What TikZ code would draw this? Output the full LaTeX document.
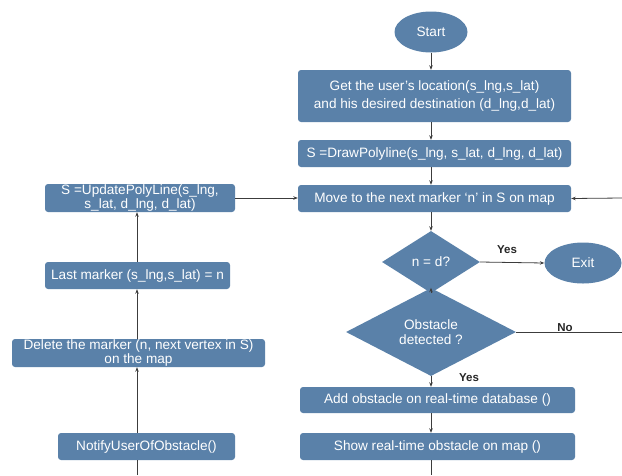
\documentclass[tikz,border=0pt]{standalone}
\usepackage{fontspec}
\setmainfont{Liberation Sans}
\usetikzlibrary{shapes.geometric,arrows.meta}
\definecolor{boxblue}{HTML}{5A81A9}
\definecolor{linegray}{HTML}{3C3C3C}
\tikzset{
  base/.style={fill=boxblue, draw=none, text=white, font=\fontsize{13.6}{14.5}\selectfont, align=center, inner sep=0pt},
  procbox/.style={base, rectangle, rounded corners=3pt},
  termbox/.style={base, ellipse},
  decbox/.style={base, diamond},
  conn/.style={draw=linegray, line width=0.8pt},
  arr/.style={conn, -{Stealth[length=4.5pt,width=3.5pt]}},
  lbl/.style={font=\fontsize{11.5}{13}\selectfont\bfseries, text=black!85}
}
\begin{document}
\begin{tikzpicture}[x=1pt,y=-1pt]
\useasboundingbox (0,0) rectangle (622,475);
% main column
\node[termbox, minimum width=73pt, minimum height=41pt] (start) at (431,32) {Start};
\node[procbox, minimum width=273pt, minimum height=52pt] (get) at (434.5,96) {Get the user’s location(s\_lng,s\_lat)\\[4pt]and his desired destination (d\_lng,d\_lat)};
\node[procbox, minimum width=273pt, minimum height=27pt] (draw) at (434.5,153.5) {S =DrawPolyline(s\_lng, s\_lat, d\_lng, d\_lat)};
\node[procbox, minimum width=273pt, minimum height=27pt] (move) at (434.5,198.5) {Move to the next marker ‘n’ in S on map};
\node[decbox, minimum width=98pt, minimum height=62pt] (dec) at (431,262) {n = d?};
\node[termbox, minimum width=77pt, minimum height=41pt] (exit) at (583,263) {Exit};
\node[decbox, minimum width=170pt, minimum height=70pt] (obs) at (431,332) {Obstacle\\detected ?};
\node[procbox, minimum width=275pt, minimum height=26pt] (add) at (437.5,400) {Add obstacle on real-time database ()};
\node[procbox, minimum width=275pt, minimum height=27pt] (show) at (437.5,446.5) {Show real-time obstacle on map ()};
% left column
\node[procbox, minimum width=190pt, minimum height=28pt] (update) at (140,198) {S =UpdatePolyLine(s\_lng,\\s\_lat, d\_lng, d\_lat)};
\node[procbox, minimum width=185pt, minimum height=27pt] (last) at (137.5,275.5) {Last marker (s\_lng,s\_lat) = n};
\node[procbox, minimum width=253pt, minimum height=28pt] (delete) at (138.5,353) {Delete the marker (n, next vertex in S)\\on the map};
\node[procbox, minimum width=177pt, minimum height=27pt] (notify) at (146.5,446.5) {NotifyUserOfObstacle()};
% free ends
\coordinate (rin) at (622,198);
\coordinate (rout) at (622,332);
\coordinate (bmain) at (431,475);
\coordinate (bleft) at (137,475);
\coordinate (colx) at (137,0);
\coordinate (mainx) at (431,0);
% connectors main
\draw[arr] (start.south) -- (start.south |- get.north);
\draw[arr] (get.south -| mainx) -- (draw.north -| mainx);
\draw[arr] (draw.south -| mainx) -- (move.north -| mainx);
\draw[arr] (move.south -| mainx) -- (dec.north);
\draw[arr] (dec.east) -- (exit.west);
\draw[arr] (dec.south) -- (obs.north);
\draw[conn] (obs.east) -- (rout);
\draw[arr] (obs.south) -- (add.north -| mainx);
\draw[arr] (add.south -| mainx) -- (show.north -| mainx);
\draw[conn] (show.south -| mainx) -- (bmain);
\draw[arr] (rin) -- (move.east);
% connectors left
\draw[conn] (bleft) -- (notify.south -| colx);
\draw[arr] (notify.north -| colx) -- (delete.south -| colx);
\draw[arr] (delete.north -| colx) -- (last.south -| colx);
\draw[arr] (last.north -| colx) -- (update.south -| colx);
\draw[arr] (update.east) -- (move.west |- update.east);
% labels
\node[lbl] (yes1) at (507,250) {Yes};
\node[lbl] (no1) at (565,328) {No};
\node[lbl] (yes2) at (469,378) {Yes};
\end{tikzpicture}
\end{document}
